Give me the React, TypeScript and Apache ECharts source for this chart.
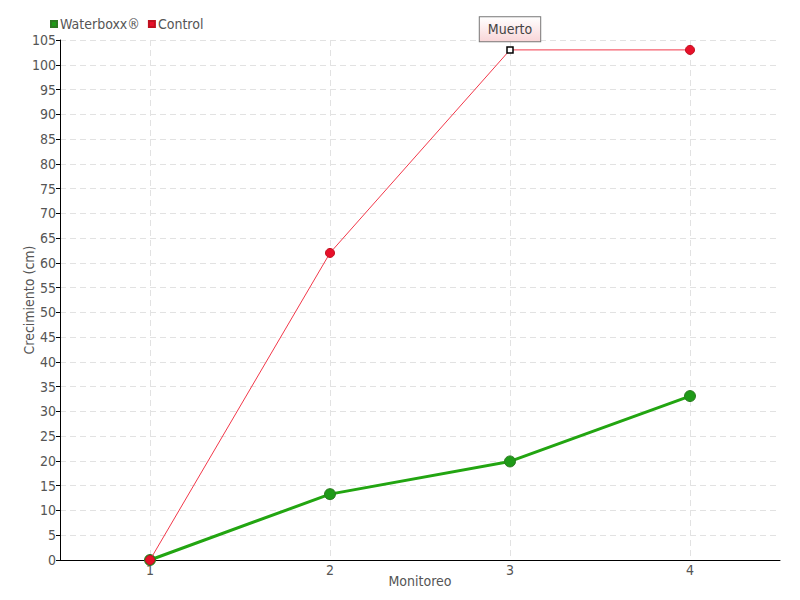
import React, { useEffect, useRef } from "react";
import * as echarts from "echarts";

const categories = ["1", "2", "3", "4"];
const waterboxx = [0, 13.3, 19.9, 33.1];
const control = [0, 62, 103, 103];
const deadIndex = 2;
const deadLabel = "Muerto";

const FONT = "'Liberation Sans Narrow', 'DejaVu Sans Condensed', sans-serif";
const TXT = "#555";

export default function App() {
  const ref = useRef<HTMLDivElement>(null);
  useEffect(() => {
    if (!ref.current) return;
    const chart = echarts.init(ref.current, null, { renderer: "svg" });
    const controlData = control.map((v, i) =>
      i === deadIndex
        ? {
            value: v,
            symbol: "rect",
            symbolSize: 6,
            itemStyle: { color: "#fff", borderColor: "#000", borderWidth: 1.5 },
            label: {
              show: true,
              position: "top",
              distance: 5,
              formatter: deadLabel,
              fontFamily: FONT,
              fontSize: 14,
              color: "#444",
              padding: [5, 8, 5, 8],
              borderColor: "#777",
              borderWidth: 1,
              backgroundColor: {
                type: "linear",
                x: 0,
                y: 0,
                x2: 0,
                y2: 1,
                colorStops: [
                  { offset: 0, color: "#ffffff" },
                  { offset: 1, color: "#f9d6d8" },
                ],
              },
            },
          }
        : v
    );
    chart.setOption({
      animation: false,
      textStyle: { fontFamily: FONT },
      legend: {
        left: 45,
        top: 12,
        itemWidth: 6,
        itemHeight: 6,
        itemGap: 8,
        icon: "rect",
        textStyle: { fontFamily: FONT, fontSize: 14, color: TXT, padding: [0, 0, 0, -2] },
        data: ["Waterboxx®", "Control"],
      },
      grid: { left: 60, right: 20, top: 40, bottom: 40, containLabel: false },
      xAxis: {
        type: "category",
        data: categories,
        boundaryGap: true,
        name: "Monitoreo",
        nameLocation: "middle",
        nameGap: 14,
        nameMoveOverlap: false,
        nameTextStyle: { fontFamily: FONT, fontSize: 14, color: TXT },
        axisLine: { lineStyle: { color: "#000", width: 1 } },
        axisTick: { alignWithLabel: true, length: 5, lineStyle: { color: "#000" } },
        axisLabel: { fontFamily: FONT, fontSize: 14, color: TXT, margin: 3 },
        splitLine: {
          show: true,
          alignWithLabel: true,
          lineStyle: { color: "#e2e2e2", type: [6, 4] },
        },
      },
      yAxis: {
        type: "value",
        min: 0,
        max: 105,
        interval: 5,
        name: "Crecimiento (cm)",
        nameLocation: "middle",
        nameGap: 24,
        nameMoveOverlap: false,
        nameTextStyle: { fontFamily: FONT, fontSize: 14, color: TXT },
        axisLine: { show: true, lineStyle: { color: "#000", width: 1 } },
        axisTick: { show: true, length: 4, lineStyle: { color: "#000" } },
        axisLabel: { fontFamily: FONT, fontSize: 14, color: TXT, margin: 4 },
        splitLine: { show: true, lineStyle: { color: "#e2e2e2", type: [6, 4] } },
      },
      series: [
        {
          name: "Waterboxx®",
          type: "line",
          data: waterboxx,
          symbol: "circle",
          symbolSize: 11,
          color: "#22a511",
          lineStyle: { color: "#22a511", width: 3 },
          itemStyle: { color: "#1f9a18", borderColor: "#2d7a22", borderWidth: 1 },
          z: 2,
        },
        {
          name: "Control",
          type: "line",
          data: controlData,
          symbol: "circle",
          symbolSize: 9,
          color: "#ee1c2e",
          lineStyle: { color: "#f2384a", width: 1 },
          itemStyle: { color: "#e8102a", borderColor: "#c0101f", borderWidth: 1 },
          z: 3,
        },
      ],
    });
    return () => chart.dispose();
  }, []);
  return <div ref={ref} style={{ width: 800, height: 600, position: "absolute", left: 0, top: 0 }} />;
}
